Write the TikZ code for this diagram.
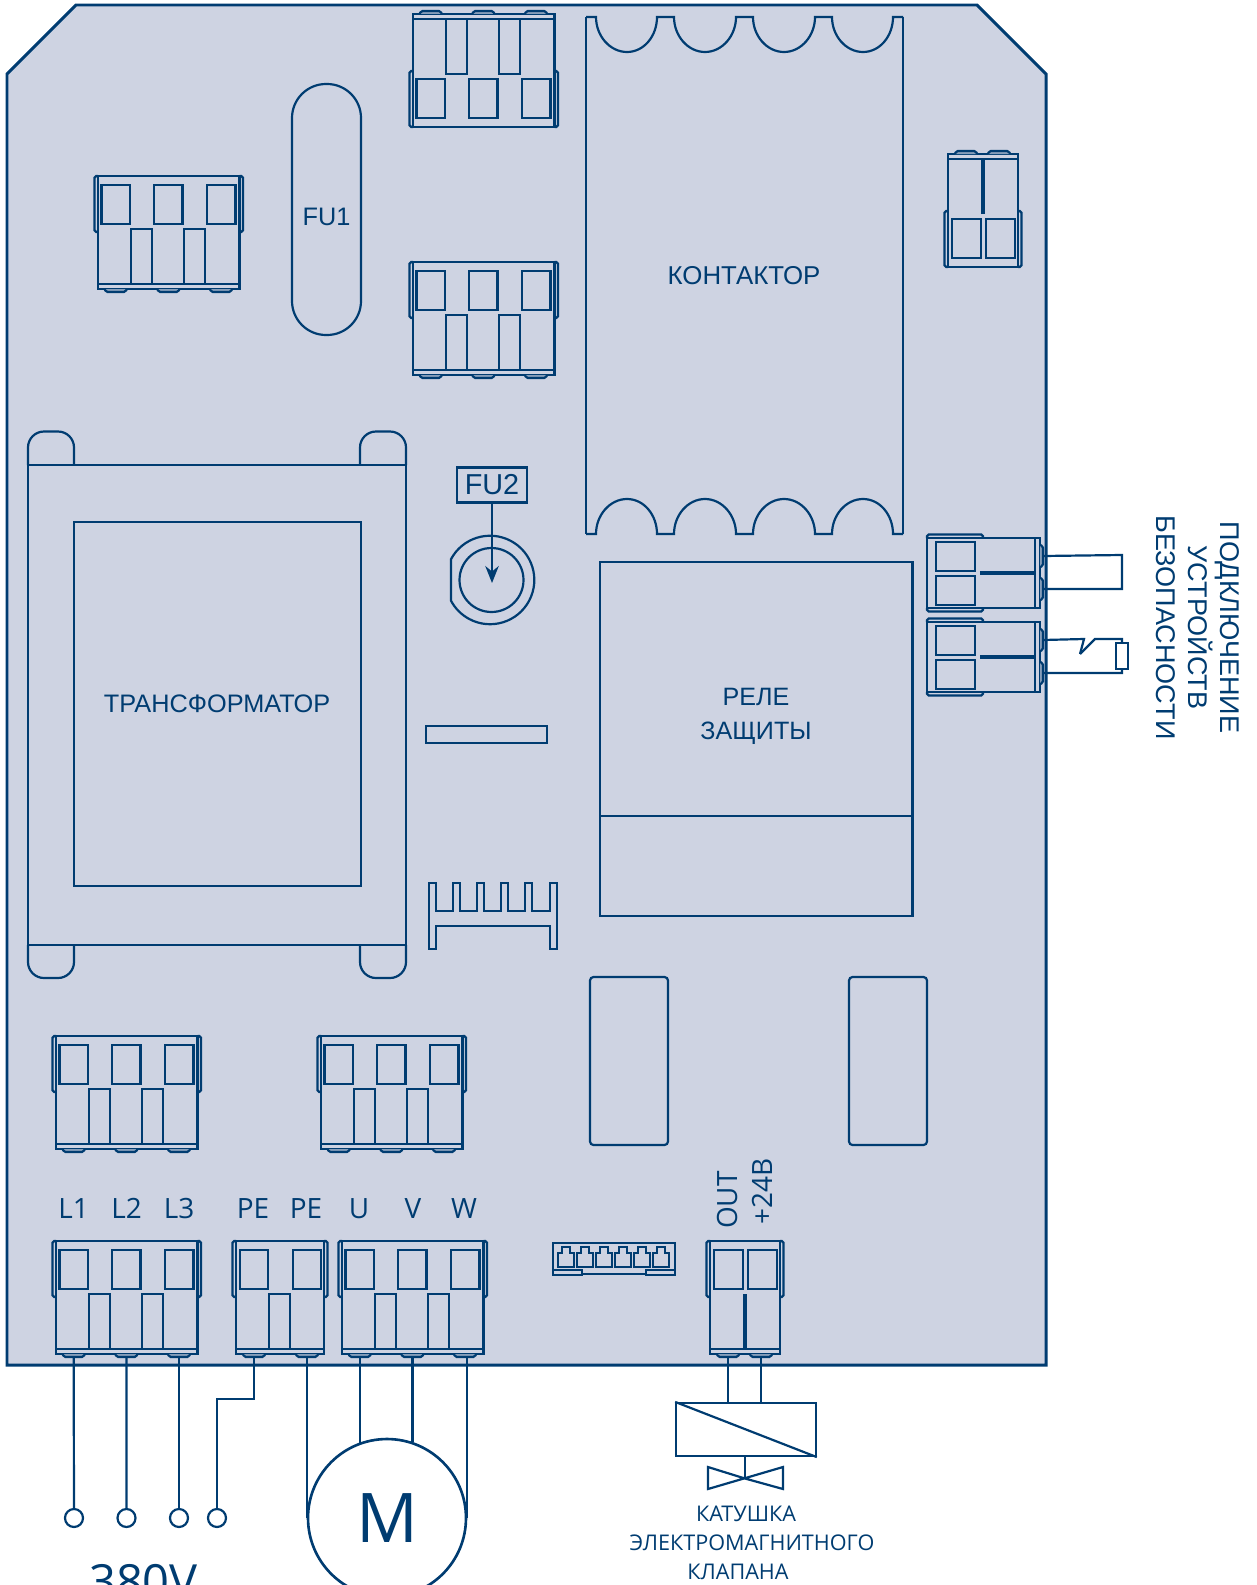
\documentclass[tikz,border=0pt]{standalone}
\usepackage{fontspec}
\setmainfont{Liberation Sans}
\newfontfamily\openfont{Open Sans}
\usetikzlibrary{arrows.meta}
\definecolor{boardline}{HTML}{003C71}
\definecolor{boardfill}{HTML}{CED3E2}

\begin{document}
\begin{tikzpicture}[
    x=0.02cm, y=-0.02cm,
    board/.style={draw=boardline, fill=boardfill, line width=1.7pt, line join=miter},
    part/.style={draw=boardline, line width=1.25pt},
    wire/.style={draw=boardline, line width=1.25pt},
    slotbar/.style={draw=boardline, line width=2.4pt},
    arrow/.style={-{Stealth[length=3.4mm, width=2.7mm]}, line width=1.25pt, color=boardline},
    partlabel/.style={text=boardline, font=\fontsize{14.4}{19}\selectfont, inner sep=0pt, align=center},
    pinlabel/.style={text=boardline, font=\openfont\fontsize{15.9}{19}\selectfont, inner sep=0pt, anchor=base},
    coillabel/.style={text=boardline, font=\openfont\fontsize{12.3}{15}\selectfont, inner sep=0pt, anchor=base},
    termpoint/.style={circle, draw=boardline, line width=1.25pt, minimum size=3.6mm, inner sep=0pt},
    % connector shell, the argument is its width
    pics/termshell/.style={code={
        \draw[part] (0,0) rectangle (#1,113);
        \draw[part] (0,108) -- (#1,108);
        \draw[part, rounded corners=1pt] (0,0) -- (-3.5,0) -- (-3.5,56) -- (0,56);
        \draw[part, rounded corners=1pt] (#1,0) -- (#1+3.5,0) -- (#1+3.5,56) -- (#1,56);
    }},
    pics/pintab/.style={code={
        \draw[part, rounded corners=1pt, fill=boardline!35!boardfill] (#1-11,113) -- (#1-10,116) -- (#1+10,116) -- (#1+11,113);
    }},
    pics/threeway/.style={code={
        \pic[transform shape] at (0,0) {termshell=141.5};
        \foreach \wx in {3.5,56,109}
            \draw[part] (\wx,9) rectangle +(28.5,39);
        \foreach \sx in {33,86}
            \draw[part] (\sx,108) -- (\sx,53) -- (\sx+21,53) -- (\sx+21,108);
        \foreach \px in {17.7,70.4,123}
            \pic[transform shape] at (0,0) {pintab=\px};
        \coordinate (-pina) at (17.7,116);
        \coordinate (-pinb) at (70.4,116);
        \coordinate (-pinc) at (123,116);
    }},
    pics/twoway/.style={code={
        \pic[transform shape] at (0,0) {termshell=88};
        \foreach \wx in {4,57}
            \draw[part] (\wx,9) rectangle +(28,39);
        \draw[part] (33,108) -- (33,53) -- (54,53) -- (54,108);
        \foreach \px in {18,71}
            \pic[transform shape] at (0,0) {pintab=\px};
        \coordinate (-pina) at (18,116);
        \coordinate (-pinb) at (71,116);
    }},
    pics/narrowway/.style={code={
        \pic[transform shape] at (0,0) {termshell=70};
        \foreach \wx in {4,38}
            \draw[part] (\wx,9) rectangle +(29,39);
        \draw[slotbar] (35,53) -- (35,108);
        \foreach \px in {18,51}
            \pic[transform shape] at (0,0) {pintab=\px};
        \coordinate (-pina) at (18,116);
        \coordinate (-pinb) at (51,116);
    }},
    pics/archrow/.style={code={
        \draw[part] (0,0) -- (10,0)
            .. controls (10,19) and (24,35) .. (41,35) .. controls (58,35) and (71,19) .. (71,0) -- (88,0)
            .. controls (88,19) and (102,35) .. (119,35) .. controls (136,35) and (150,19) .. (150,0) -- (167,0)
            .. controls (167,19) and (181,35) .. (198,35) .. controls (215,35) and (229,19) .. (229,0) -- (246,0)
            .. controls (246,19) and (260,35) .. (277,35) .. controls (294,35) and (307,19) .. (307,0) -- (317,0);
    }}
]
\useasboundingbox (0,0) rectangle (1257,1585);

% Board
\draw[board] (7,74) -- (76,5) -- (977,5) -- (1046,74) -- (1046,1365) -- (7,1365) -- cycle;

% Connectors on the board
\pic at (98,176) {threeway};
\pic[yscale=-1] at (413,127) {threeway};
\pic at (413,262) {threeway};
\pic[yscale=-1] at (948,267) {narrowway};
\pic at (56,1036) {threeway};
\pic at (321,1036) {threeway};
\pic (mains) at (56,1241) {threeway};
\pic (earth) at (236,1241) {twoway};
\pic (motorout) at (342,1241) {threeway};
\pic (coilout) at (710,1241) {narrowway};
\pic[rotate=-90, yscale=-1] (safeup) at (927,538) {narrowway};
\pic[rotate=-90, yscale=-1] (safedown) at (927,622) {narrowway};

% Fuse FU1
\draw[part, rounded corners=0.68cm] (292,84) rectangle (361,335);
\node[partlabel] (fuone) at (326.5,217) {FU1};

% Contactor
\pic at (586,17) {archrow};
\pic[yscale=-1] at (586,534) {archrow};
\draw[part] (586,17) -- (586,534);
\draw[part] (903,17) -- (903,534);
\node[partlabel, font=\fontsize{14.7}{19}\selectfont] (contactor) at (744,276) {КОНТАКТОР};

% Transformer
\draw[part] (28,465) rectangle (406,945);
\draw[part] (74,522) rectangle (361,886);
\foreach \fx in {28,360} {
    \draw[part, rounded corners=0.32cm] (\fx,465) -- (\fx,431.5) -- (\fx+46,431.5) -- (\fx+46,465);
    \draw[part, rounded corners=0.32cm] (\fx,945) -- (\fx,978) -- (\fx+46,978) -- (\fx+46,945);
}
\node[partlabel] (transformer) at (217,704) {ТРАНСФОРМАТОР};

% Fuse FU2
\draw[part] (451,559.2) arc[start angle=152, end angle=-152, radius=0.885cm] -- cycle;
\draw[part] (491.5,580) circle[radius=0.64cm];
\node[partlabel, draw=boardline, line width=1.25pt, minimum width=1.4cm, minimum height=0.7cm, font=\fontsize{16.4}{19}\selectfont] (futwo) at (492,485) {FU2};
\coordinate (fusecentre) at (492,583);
\draw[arrow] (futwo) -- (fusecentre);

% Small parts
\draw[part] (426,726) rectangle (547,743);
\draw[part] (429,949) -- (429,883) -- (436,883) -- (436,911) -- (453,911) -- (453,883) -- (460,883) -- (460,911)
    -- (477,911) -- (477,883) -- (484,883) -- (484,911) -- (501,911) -- (501,883) -- (508,883) -- (508,911)
    -- (525,911) -- (525,883) -- (532,883) -- (532,911) -- (550,911) -- (550,883) -- (557,883) -- (557,949)
    -- (550,949) -- (550,926) -- (436,926) -- (436,949) -- cycle;

% Relay
\draw[part] (600,562) rectangle (912.5,916);
\draw[part] (600,816) -- (912.5,816);
\node[partlabel, font=\fontsize{14.3}{19.3}\selectfont] (relay) at (756,716) {РЕЛЕ\\ЗАЩИТЫ};

% Capacitors
\draw[part, rounded corners=2pt] (590,977) rectangle (668,1145);
\draw[part, rounded corners=2pt] (849,977) rectangle (927,1145);

% Header
\draw[part] (553,1243) -- (675,1243) -- (675,1275) -- (646,1275) -- (646,1274) -- (582,1274) -- (582,1275) -- (553,1275) -- cycle;
\draw[part] (553,1270) -- (582,1270) -- (582,1274);
\draw[part] (675,1270) -- (646,1270) -- (646,1274);
\foreach \hx in {566,585,604,623,642,661}
    \draw[part] (\hx-8,1267) -- (\hx-8,1253) -- (\hx-4,1253) -- (\hx-4,1247) -- (\hx+4,1247) -- (\hx+4,1253) -- (\hx+8,1253) -- (\hx+8,1267) -- cycle;

% Pin labels
\node[pinlabel] (lone) at (73.5,1218) {L1};
\node[pinlabel] (ltwo) at (126.5,1218) {L2};
\node[pinlabel] (lthree) at (179,1218) {L3};
\node[pinlabel] (peone) at (253,1218) {PE};
\node[pinlabel] (petwo) at (306,1218) {PE};
\node[pinlabel] (uu) at (359,1218) {U};
\node[pinlabel] (vv) at (413,1218) {V};
\node[pinlabel] (ww) at (464,1218) {W};
\node[pinlabel, rotate=90, anchor=center] (outlabel) at (727,1200) {OUT};
\node[pinlabel, rotate=90, anchor=center] (pluslabel) at (762,1191) {+24В};

% Mains terminals
\node[termpoint] (tlone) at (74,1518) {};
\node[termpoint] (tltwo) at (126.5,1518) {};
\node[termpoint] (tlthree) at (179,1518) {};
\node[termpoint] (tpe) at (217,1518) {};
\draw[wire] (mains-pina) -- (tlone);
\draw[wire] (mains-pinb) -- (tltwo);
\draw[wire] (mains-pinc) -- (tlthree);
\coordinate (pebend) at (217,1399);
\draw[wire] (earth-pina) |- (pebend) -- (tpe);
\node[text=boardline, font=\openfont\fontsize{26.8}{30}\selectfont, anchor=base, inner sep=0pt] (mainsv) at (143.5,1598) {380V};

% Motor
\node[circle, draw=boardline, line width=1.5pt, fill=white, minimum size=3.16cm, inner sep=0pt, text=boardline, font=\openfont\fontsize{39}{44}\selectfont] (motor) at (387,1518) {M};
\draw[wire] (earth-pinb) -- (earth-pinb |- motor.180);
\draw[wire] (motorout-pina) -- (motorout-pina |- motor.110);
\draw[wire] (motorout-pinb) -- (motorout-pinb |- motor.71);
\draw[wire] (motor.0 |- motorout-pinc) -- (motor.0);

% Valve coil
\node[draw=boardline, line width=1.25pt, minimum width=2.79cm, minimum height=1.06cm, inner sep=0pt] (coil) at (746,1429.5) {};
\draw[part] (coil.north west) -- (coil.south east);
\draw[wire] (coilout-pina) -- (coilout-pina |- coil.north);
\draw[wire] (coilout-pinb) -- (coilout-pinb |- coil.north);
\coordinate (valvemid) at (745,1478.5);
\draw[wire] (valvemid |- coil.south) -- (valvemid);
\draw[part] (valvemid) -- (708,1467) -- (708,1489) -- (783,1467) -- (783,1489) -- cycle;
\node[coillabel] (coilone) at (746,1521) {КАТУШКА};
\node[coillabel] (coiltwo) at (752,1550) {ЭЛЕКТРОМАГНИТНОГО};
\node[coillabel] (coilthree) at (738,1579) {КЛАПАНА};

% Safety devices
\coordinate (loopa) at (1122,555);
\coordinate (loopb) at (1122,589);
\draw[wire] (safeup-pina) -- (loopa) -- (loopb) -- (safeup-pinb);
\coordinate (swa) at (1084,639);
\coordinate (swb) at (1080,654);
\coordinate (swc) at (1095,639);
\coordinate (swd) at (1122,639);
\coordinate (swe) at (1122,673);
\draw[wire] (safedown-pina) -- (swa) -- (swb);
\draw[wire] (swb) -- (swc) -- (swd) -- (swe) -- (safedown-pinb);
\node[draw=boardline, line width=1.25pt, fill=white, minimum width=0.24cm, minimum height=0.52cm, inner sep=0pt] (safetyres) at (1122,656) {};
\node[partlabel, rotate=-90, font=\fontsize{15.4}{18.1}\selectfont] (safetylabel) at (1198,627.5) {ПОДКЛЮЧЕНИЕ\\УСТРОЙСТВ\\БЕЗОПАСНОСТИ};

\end{tikzpicture}
\end{document}
